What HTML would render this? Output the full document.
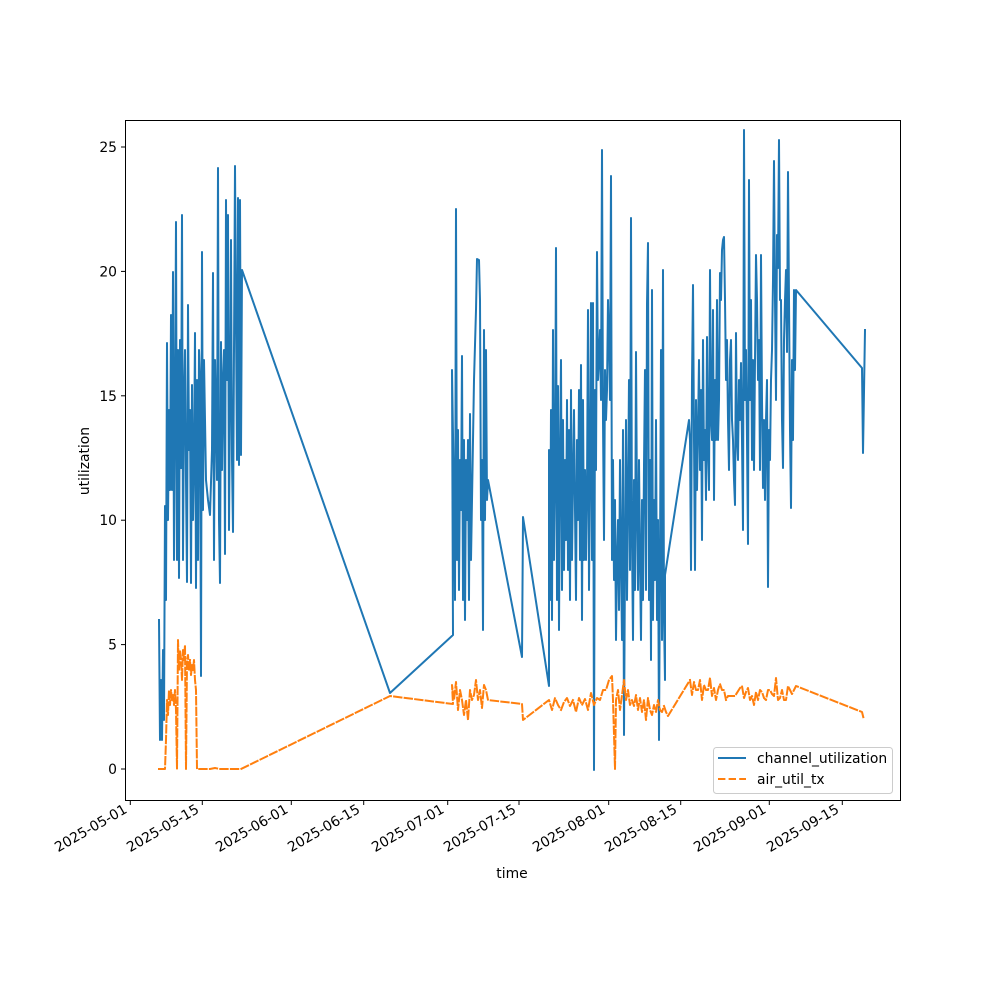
<!DOCTYPE html>
<html><head><meta charset="utf-8"><style>body{margin:0;background:#fff}svg{display:block}text{font-family:"DejaVu Sans","Liberation Sans",sans-serif;font-size:13.9px;fill:#000}</style></head><body>
<svg width="1000" height="1000" viewBox="0 0 1000 1000">
<rect width="1000" height="1000" fill="#fff"/>
<g fill="none" stroke-linejoin="round" stroke-linecap="square">
<polyline stroke="#1f77b4" stroke-width="2" points="159,620 160,740 161,680 162,740 163,650 164,720 165,506 166,600 167,343 168,520 169,410 170,490 171,315 172,490 173,272 174,560 175,415 176,222 177,560 178,350 179,578 180,340 181,468 182,215 183,560 184,400 185,350 186,480 187,582 188,305 189,450 190,410 191,583 192,385 193,520 194,460 195,333 196,588 197,380 198,560 199,350 200,380 201,676 202,252 203,510 204,360 205,420 206,480 208,500 210,515 212,450 213,273 214,560 215,360 216,420 217,480 218,168 219,520 220,583 221,342 222,470 223,380 224,350 225,554 226,200 227,380 228,215 229,530 230,398 231,240 232,460 233,532 234,350 235,166 236,320 237,460 238,198 239,465 240,200 241,455 242,270 390,693 453,635 452,370 454,500 455,600 456,209 457,560 458,430 459,590 460,460 461,510 462,356 463,600 464,440 465,620 466,460 467,520 468,440 469,600 470,414 471,560 472,500 474,380 476,310 477,259 479,260 480,300 481,520 482,460 483,630 484,330 485,520 486,350 487,500 488,480 522,657 523,517 549,686 549,450 550,600 551,410 552,620 553,330 554,560 555,480 556,248 557,600 558,386 559,630 560,460 561,360 562,590 563,420 564,570 565,460 566,540 567,400 568,570 569,430 570,600 571,390 572,560 573,480 574,410 575,510 576,600 577,440 578,520 579,390 580,560 581,365 582,620 583,400 584,560 585,470 586,560 587,490 588,310 589,590 590,470 591,303 592,560 593,303 594,770 595,390 596,470 597,252 598,380 599,360 600,330 601,400 602,150 603,420 604,540 605,370 606,420 607,390 608,300 609,340 610,400 611,176 612,560 613,460 614,580 615,500 616,640 617,560 618,520 619,610 620,460 621,560 622,640 623,430 624,735 625,560 626,420 627,600 628,500 629,380 630,570 631,218 632,540 633,640 634,480 635,590 636,352 637,510 638,590 639,460 640,560 641,640 642,500 643,600 644,465 645,370 646,590 647,304 648,243 649,600 650,460 651,660 652,290 653,620 654,500 655,580 656,420 657,620 658,520 659,740 660,560 661,350 662,640 663,270 664,620 665,680 665,575 689,420 690,440 691,570 692,380 693,285 694,440 695,570 696,400 697,490 698,430 699,360 700,470 701,390 702,540 703,340 704,460 705,430 706,500 707,337 708,450 709,490 710,270 711,420 712,440 713,310 714,500 715,380 716,440 717,300 718,440 719,400 720,273 721,300 722,250 723,240 724,237 725,300 726,380 727,340 728,420 729,470 730,360 731,340 732,420 733,440 734,480 735,505 736,333 737,440 738,460 739,380 740,420 741,363 742,440 743,530 744,130 745,400 746,350 747,440 748,544 749,180 750,400 751,300 752,460 753,360 754,470 755,360 756,255 757,300 758,380 759,340 760,470 761,255 762,400 763,488 764,420 765,500 766,420 767,380 768,587 769,430 770,460 771,380 772,350 773,280 774,161 775,300 776,400 777,235 778,268 779,140 780,300 781,300 782,420 783,468 784,340 785,300 786,270 787,352 788,172 789,300 790,430 791,508 792,360 793,440 794,290 795,370 796,290 862,368 863,453 865,330"/>
<polyline stroke="#ff7f0e" stroke-width="2" stroke-dasharray="7.4,3.2" points="159,769 165,769 166,740 167,700 168,715 169,690 170,705 171,690 172,700 173,695 174,705 175,690 176,710 177,769 178,640 179,670 180,650 181,660 182,680 183,650 184,660 185,645 186,769 187,660 188,655 189,670 190,660 191,675 192,665 193,670 194,660 195,680 196,690 197,769 198,769 210,769 215,768 220,769 241,769 390,696 453,704 452,685 454,700 456,682 458,710 460,690 462,700 464,715 466,700 468,720 470,690 472,700 474,695 476,680 478,700 480,690 482,708 484,685 486,690 488,700 522,704 523,720 549,700 552,710 555,698 558,705 561,710 564,702 567,698 570,706 573,700 576,712 579,698 582,705 585,699 588,710 591,693 594,705 597,698 600,700 603,690 606,690 609,680 612,676 613,700 615,769 616,700 618,690 620,710 622,695 624,680 626,700 628,690 630,705 632,700 634,706 636,695 638,710 640,698 642,712 644,700 646,720 648,698 650,710 652,715 654,705 656,712 658,700 660,710 662,712 664,706 666,712 668,716 690,680 692,695 694,682 696,690 698,690 700,680 702,700 704,685 706,690 708,690 710,678 712,696 714,688 716,700 718,690 720,684 722,690 724,690 726,700 728,696 730,696 735,696 740,688 742,686 744,698 746,692 748,688 750,700 752,696 754,705 756,692 758,700 760,690 762,692 764,698 766,700 768,690 770,690 772,694 774,696 776,678 778,700 780,698 782,690 784,700 786,700 788,686 790,690 792,694 794,690 796,686 862,712 864,720"/>
</g>
<rect x="125.5" y="120.5" width="775" height="680" fill="none" stroke="#000" stroke-width="1"/>
<g stroke="#000" stroke-width="1">
<line x1="121" x2="125" y1="769" y2="769"/><line x1="121" x2="125" y1="644.6" y2="644.6"/><line x1="121" x2="125" y1="520.2" y2="520.2"/><line x1="121" x2="125" y1="395.8" y2="395.8"/><line x1="121" x2="125" y1="271.4" y2="271.4"/><line x1="121" x2="125" y1="147" y2="147"/>
<line x1="130.3" x2="130.3" y1="800" y2="805"/><line x1="202.3" x2="202.3" y1="800" y2="805"/><line x1="291.3" x2="291.3" y1="800" y2="805"/><line x1="363.7" x2="363.7" y1="800" y2="805"/><line x1="447.7" x2="447.7" y1="800" y2="805"/><line x1="519" x2="519" y1="800" y2="805"/><line x1="608.7" x2="608.7" y1="800" y2="805"/><line x1="680.7" x2="680.7" y1="800" y2="805"/><line x1="769.3" x2="769.3" y1="800" y2="805"/><line x1="842.3" x2="842.3" y1="800" y2="805"/>
</g>
<g text-anchor="end">
<text x="117" y="774">0</text><text x="117" y="649.6">5</text><text x="117" y="525.2">10</text><text x="117" y="400.8">15</text><text x="117" y="276.4">20</text><text x="117" y="152">25</text>
</g>
<g text-anchor="end">
<text transform="translate(128,812) rotate(-30)">2025-05-01</text>
<text transform="translate(200,812) rotate(-30)">2025-05-15</text>
<text transform="translate(289,812) rotate(-30)">2025-06-01</text>
<text transform="translate(361,812) rotate(-30)">2025-06-15</text>
<text transform="translate(445,812) rotate(-30)">2025-07-01</text>
<text transform="translate(517,812) rotate(-30)">2025-07-15</text>
<text transform="translate(606,812) rotate(-30)">2025-08-01</text>
<text transform="translate(678,812) rotate(-30)">2025-08-15</text>
<text transform="translate(767,812) rotate(-30)">2025-09-01</text>
<text transform="translate(840,812) rotate(-30)">2025-09-15</text>
</g>
<text x="512" y="878" text-anchor="middle">time</text>
<text transform="translate(89,461) rotate(-90)" text-anchor="middle">utilization</text>
<rect x="713.5" y="747.5" width="179" height="46" rx="3" fill="#fff" fill-opacity="0.8" stroke="#ccc"/>
<line x1="718" x2="746" y1="758" y2="758" stroke="#1f77b4" stroke-width="2"/>
<line x1="718" x2="746" y1="779" y2="779" stroke="#ff7f0e" stroke-width="2" stroke-dasharray="7.4,3.2"/>
<text x="757" y="763">channel_utilization</text>
<text x="757" y="784">air_util_tx</text>
</svg>
</body></html>
